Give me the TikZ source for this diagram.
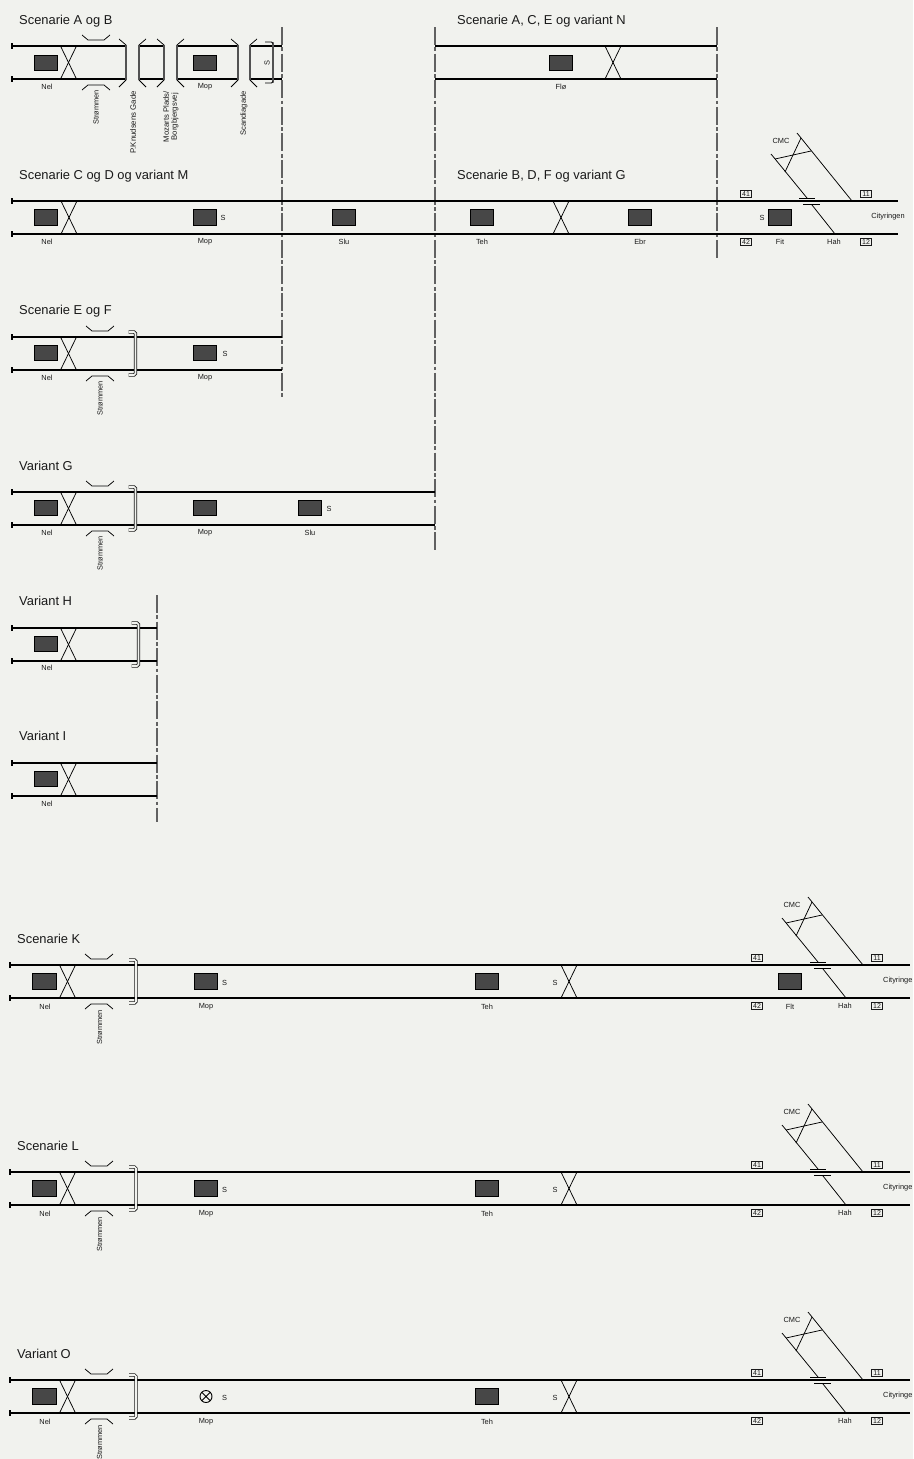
\documentclass[tikz,border=0pt]{standalone}
\usepackage{fontspec}
\setmainfont{Liberation Sans}
\definecolor{bg}{HTML}{F1F2EE}
\definecolor{ink}{HTML}{1A1A1A}
\tikzset{
 x=1pt,y=-1pt,
 trackline/.style={draw=black,line width=1.2pt},
 thinline/.style={draw=black,line width=.75pt},
 boundary/.style={draw=black!62,line width=1.1pt,dash pattern=on 18pt off 2.4pt on 3.8pt off 2.4pt},
 stationbox/.style={draw=black,line width=.9pt,fill=black!72,minimum width=23.5pt,minimum height=15.5pt,inner sep=0pt,anchor=center},
 titletext/.style={font=\fontsize{12.9}{15}\selectfont,anchor=west,inner sep=0pt,text=ink},
 smalltext/.style={font=\fontsize{7.4}{8}\selectfont,inner sep=0pt,text=ink},
 rottext/.style={smalltext,rotate=90,anchor=east,align=center},
 numbox/.style={draw=ink,line width=.7pt,minimum width=11pt,minimum height=7pt,inner sep=0pt,font=\fontsize{7}{7}\selectfont,text=ink},
 graybar/.style={draw=black!50,line width=2.6pt},
 dblbuf/.style={draw=ink,line width=.8pt,double=bg,double distance=1.6pt,rounded corners=1.5pt},
 signal/.style={circle,draw=black,line width=.9pt,minimum size=12pt,inner sep=0pt,path picture={\draw[black,line width=.9pt] (path picture bounding box.north west)--(path picture bounding box.south east) (path picture bounding box.north east)--(path picture bounding box.south west);}}
}
% track pair: name x1 x2 ytop
\newcommand\rails[4]{%
 \coordinate (#1-ta) at (#2,#4); \coordinate (#1-tb) at (#3,#4);
 \coordinate (#1-ba) at (#2,#4+33); \coordinate (#1-bb) at (#3,#4+33);
 \draw[trackline] (#1-ta)--(#1-tb); \draw[trackline] (#1-ba)--(#1-bb);}
\newcommand\ticks[3]{%
 \coordinate (#1-t1) at (#2,#3-3); \coordinate (#1-t2) at (#2,#3+3);
 \coordinate (#1-t3) at (#2,#3+30); \coordinate (#1-t4) at (#2,#3+36);
 \draw[trackline] (#1-t1)--(#1-t2); \draw[trackline] (#1-t3)--(#1-t4);}
% crossover: name x ytop
\newcommand\xing[3]{%
 \coordinate (#1-a) at (#2,#3); \coordinate (#1-b) at (#2+16,#3);
 \coordinate (#1-c) at (#2,#3+33); \coordinate (#1-d) at (#2+16,#3+33);
 \draw[thinline] (#1-a)--(#1-d); \draw[thinline] (#1-b)--(#1-c);}
% bridge: name x ytop (x = left end)
\newcommand\bridge[3]{%
 \coordinate (#1-a) at (#2,#3-11); \coordinate (#1-b) at (#2+6,#3-6);
 \coordinate (#1-c) at (#2+22,#3-6); \coordinate (#1-d) at (#2+28,#3-11);
 \coordinate (#1-e) at (#2,#3+44); \coordinate (#1-f) at (#2+6,#3+39);
 \coordinate (#1-g) at (#2+22,#3+39); \coordinate (#1-h) at (#2+28,#3+44);
 \draw[thinline] (#1-a)--(#1-b)--(#1-c)--(#1-d);
 \draw[thinline] (#1-e)--(#1-f)--(#1-g)--(#1-h);}
% double bracket: name x ytop
\newcommand\dbuf[3]{%
 \coordinate (#1-a) at (#2,#3-5); \coordinate (#1-b) at (#2+7,#3-5);
 \coordinate (#1-c) at (#2+7,#3+38); \coordinate (#1-d) at (#2,#3+38);
 \draw[dblbuf] (#1-a)--(#1-b)--(#1-c)--(#1-d);}
% bracket with gray bar: name xbar xtip ytop
\newcommand\gbuf[4]{%
 \coordinate (#1-a) at (#3,#4-7); \coordinate (#1-b) at (#2,#4-1);
 \coordinate (#1-c) at (#2,#4+34); \coordinate (#1-d) at (#3,#4+41);
 \draw[graybar] (#1-b)--(#1-c);
 \draw[thinline] (#1-a)--(#1-b)--(#1-c)--(#1-d);}
\newcommand\stn[3]{\node[stationbox] (#1) at (#2,#3) {};}
\newcommand\lab[4]{\node[smalltext] (#1) at (#2,#3) {#4};}
\newcommand\rlab[4]{\node[rottext] (#1) at (#2,#3) {#4};}
\newcommand\ttl[4]{\node[titletext] (#1) at (#2,#3+1) {#4};}
% junction: name dx ytop
\newcommand\jct[3]{%
 \coordinate (#1-a) at (797+#2,#3-68); \coordinate (#1-b) at (852+#2,#3);
 \coordinate (#1-c) at (771+#2,#3-47); \coordinate (#1-d) at (807+#2,#3-3);
 \coordinate (#1-e) at (812+#2,#3+4); \coordinate (#1-f) at (835+#2,#3+33);
 \coordinate (#1-g) at (799+#2,#3-3); \coordinate (#1-h) at (815+#2,#3-3);
 \coordinate (#1-i) at (803+#2,#3+3); \coordinate (#1-j) at (820+#2,#3+3);
 \coordinate (#1-k) at (775+#2,#3-42); \coordinate (#1-l) at (811+#2,#3-50);
 \coordinate (#1-m) at (785+#2,#3-29); \coordinate (#1-n) at (801+#2,#3-63);
 \draw[thinline] (#1-a)--(#1-b); \draw[thinline] (#1-c)--(#1-d);
 \draw[thinline] (#1-e)--(#1-f); \draw[thinline] (#1-g)--(#1-h);
 \draw[thinline] (#1-i)--(#1-j); \draw[thinline] (#1-k)--(#1-l);
 \draw[thinline] (#1-m)--(#1-n);
 \node[smalltext] (#1-cmc) at (781+#2,#3-60) {CMC};
 \node[numbox] (#1-41) at (746+#2,#3-7) {41};
 \node[numbox] (#1-42) at (746+#2,#3+41) {42};
 \node[numbox] (#1-11) at (866+#2,#3-7) {11};
 \node[numbox] (#1-12) at (866+#2,#3+41) {12};
 \node[smalltext] (#1-hah) at (834+#2,#3+41) {Hah};}
% lower scenario common: name ytop
\newcommand\lowblock[2]{%
 \rails{#1}{10}{910}{#2}
 \ticks{#1t}{10}{#2}
 \xing{#1x}{59.5}{#2}
 \bridge{#1br}{85}{#2}
 \dbuf{#1bf}{129}{#2}
 \stn{#1nel}{44.5}{#2+16.5}
 \lab{#1nell}{45}{#2+41.5}{Nel}
 \rlab{#1str}{99.5}{#2+45}{Strømmen}
 \lab{#1mopl}{206}{#2+41.5}{Mop}
 \lab{#1ss}{224.5}{#2+17.5}{S}
 \stn{#1teh}{487}{#2+16.5}
 \lab{#1tehl}{487}{#2+41.5}{Teh}
 \lab{#1s2}{555}{#2+17.5}{S}
 \xing{#1y}{561}{#2}
 \jct{#1j}{11}{#2}
 \node[smalltext,anchor=west] (#1city) at (883,#2+16) {Cityringe};}
\begin{document}
\begin{tikzpicture}
\path[use as bounding box,fill=bg] (0,0) rectangle (913,1459);
\clip (0,0) rectangle (913,1459);
% boundaries
\coordinate (v1a) at (282,27); \coordinate (v1b) at (282,399);
\coordinate (v2a) at (435,27); \coordinate (v2b) at (435,550);
\coordinate (v3a) at (717,27); \coordinate (v3b) at (717,260);
\coordinate (v4a) at (157,595); \coordinate (v4b) at (157,822);
\draw[boundary] (v1a)--(v1b); \draw[boundary] (v2a)--(v2b);
\draw[boundary] (v3a)--(v3b); \draw[boundary] (v4a)--(v4b);
% Scenario A og B
\ttl{ta}{19}{20}{Scenarie A og B}
\coordinate (a1) at (12,46); \coordinate (a2) at (125,46);
\coordinate (a3) at (12,79); \coordinate (a4) at (125,79);
\coordinate (a5) at (139,46); \coordinate (a6) at (164,46);
\coordinate (a7) at (139,79); \coordinate (a8) at (164,79);
\coordinate (a9) at (177,46); \coordinate (a10) at (237,46);
\coordinate (a11) at (177,79); \coordinate (a12) at (237,79);
\coordinate (a13) at (250,46); \coordinate (a14) at (282,46);
\coordinate (a15) at (250,79); \coordinate (a16) at (282,79);
\foreach \p/\q in {a1/a2,a3/a4,a5/a6,a7/a8,a9/a10,a11/a12,a13/a14,a15/a16}{\draw[trackline] (\p)--(\q);}
\ticks{at}{12}{46}
\xing{ax}{60.5}{46}
\bridge{abr}{82}{46}
\gbuf{ab1}{126}{119}{46}
\gbuf{ab2}{139}{146}{46}
\gbuf{ab3}{164}{157}{46}
\gbuf{ab4}{177}{184}{46}
\gbuf{ab5}{238}{231}{46}
\gbuf{ab6}{250}{257}{46}
\coordinate (as1) at (265,42); \coordinate (as2) at (273,42);
\coordinate (as3) at (273,83); \coordinate (as4) at (265,83);
\draw[graybar] (as2)--(as3);
\draw[thinline,rounded corners=1.5pt] (as1)--(as2)--(as3)--(as4);
\node[smalltext,rotate=90] (as) at (267,63) {S};
\stn{anel}{46}{63}
\stn{amop}{205}{63}
\lab{anell}{47}{87}{Nel}
\lab{amopl}{205}{87}{Mop}
\rlab{astr}{96}{90}{Strømmen}
\node[rottext,font=\fontsize{7.8}{8}\selectfont] (akn) at (133,91) {P.Knudsens Gade};
\node[rottext,font=\fontsize{7.7}{8}\selectfont] (amz) at (171,91) {Mozarts Plads/\\Borgbjergsvej};
\node[rottext,font=\fontsize{7.6}{8}\selectfont] (asc) at (244,91) {Scandiagade};
% Scenario N
\ttl{tn}{457}{20}{Scenarie A, C, E og variant N}
\rails{n}{435}{717}{46}
\stn{nfl}{561}{63}
\xing{nx}{605}{46}
\lab{nfll}{561}{87}{Flø}
% Scenario C og D + B, D, F
\ttl{tc}{19}{175}{Scenarie C og D og variant M}
\ttl{tb}{457}{175}{Scenarie B, D, F og variant G}
\rails{c}{12}{898}{201}
\ticks{ct}{12}{201}
\xing{cx}{61}{201}
\xing{cy}{553}{201}
\stn{cnel}{46}{217.5}
\stn{cmop}{205}{217.5}
\stn{cslu}{344}{217.5}
\stn{cteh}{482}{217.5}
\stn{cebr}{640}{217.5}
\stn{cfit}{780}{217.5}
\lab{cnell}{47}{242}{Nel}
\lab{cmopl}{205}{242}{Mop}
\lab{cslul}{344}{242}{Slu}
\lab{ctehl}{482}{242}{Teh}
\lab{cebrl}{640}{242}{Ebr}
\lab{cfitl}{780}{242}{Fit}
\lab{cs1}{223}{218}{S}
\lab{cs2}{762}{218}{S}
\jct{cj}{0}{201}
\node[smalltext] (ccity) at (888,217) {Cityringen};
% Scenario E og F
\ttl{te}{19}{310}{Scenarie E og F}
\rails{e}{12}{282}{337}
\ticks{et}{12}{337}
\xing{ex}{60.5}{337}
\bridge{ebr}{86}{337}
\dbuf{ebf}{128.5}{337}
\stn{enel}{46}{353}
\stn{emop}{205}{353}
\lab{enell}{47}{378}{Nel}
\lab{emopl}{205}{378}{Mop}
\lab{es}{225}{353.5}{S}
\rlab{estr}{100}{381}{Strømmen}
% Variant G
\ttl{tg}{19}{465}{Variant G}
\rails{g}{12}{435}{492}
\ticks{gt}{12}{492}
\xing{gx}{60.5}{492}
\bridge{gbr}{86}{492}
\dbuf{gbf}{128.5}{492}
\stn{gnel}{46}{508}
\stn{gmop}{205}{508}
\stn{gslu}{310}{508}
\lab{gnell}{47}{533}{Nel}
\lab{gmopl}{205}{533}{Mop}
\lab{gslul}{310}{533}{Slu}
\lab{gs}{329}{508.5}{S}
\rlab{gstr}{100}{536}{Strømmen}
% Variant H
\ttl{th}{19}{600}{Variant H}
\rails{h}{12}{157}{628}
\ticks{ht}{12}{628}
\xing{hx}{60.5}{628}
\dbuf{hbf}{131.5}{628}
\stn{hnel}{46}{644}
\lab{hnell}{47}{668}{Nel}
% Variant I
\ttl{ti}{19}{735}{Variant I}
\rails{i}{12}{157}{763}
\ticks{it}{12}{763}
\xing{ix}{60.5}{763}
\stn{inel}{46}{779}
\lab{inell}{47}{804}{Nel}
% Scenario K
\ttl{tk}{17}{938}{Scenarie K}
\lowblock{k}{965}
\stn{kmop}{206}{981.5}
\stn{kflt}{790}{981.5}
\lab{kfltl}{790}{1006.5}{Flt}
% Scenario L
\ttl{tl}{17}{1145}{Scenarie L}
\lowblock{l}{1172}
\stn{lmop}{206}{1188.5}
% Variant O
\ttl{to}{17}{1353}{Variant O}
\lowblock{o}{1380}
\node[signal] (omop) at (206,1396.5) {};
\end{tikzpicture}
\end{document}
